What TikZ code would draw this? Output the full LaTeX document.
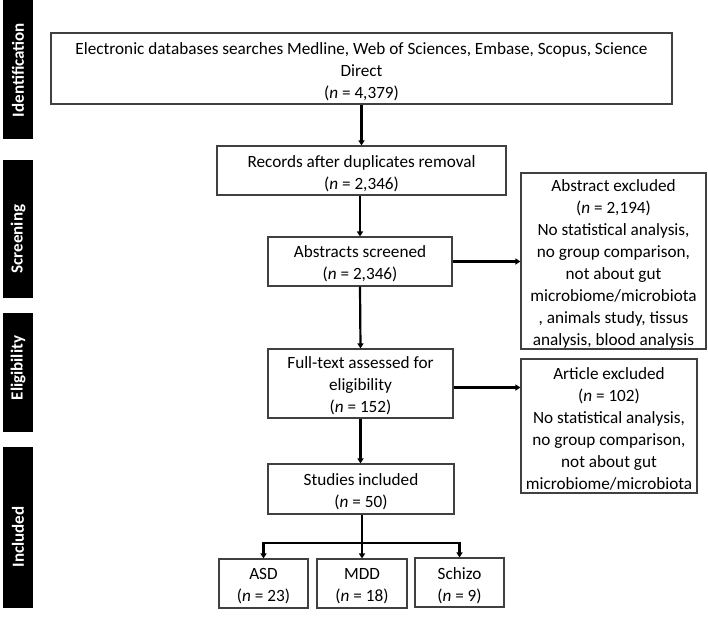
\documentclass[tikz,border=0pt]{standalone}
\usepackage{fontspec}
\setmainfont{Carlito}
\usetikzlibrary{arrows.meta,calc}
\begin{document}
\begin{tikzpicture}[x=1pt,y=-1pt,
  box/.style={draw=black!75,line width=1.1pt,rectangle,inner sep=0pt},
  txt/.style={align=center,inner sep=0pt,font=\fontsize{17.2}{21.9}\selectfont},
  bar/.style={fill=black,draw=none,rectangle,inner sep=0pt,minimum width=30pt},
  side/.style={text=white,inner sep=0pt,rotate=90,font=\fontsize{17}{20}\selectfont\bfseries},
  arr/.style={line width=2.2pt,-{Triangle[length=5pt,width=6pt]}},
  ln/.style={line width=2.2pt}
]
\useasboundingbox (0,0) rectangle (708,616);
% side bars
\node[bar,minimum height=139pt] (sid) at (18,69.5) {};
\node[bar,minimum height=138pt] (sscr) at (18,229) {};
\node[bar,minimum height=119pt] (seli) at (18,372.5) {};
\node[bar,minimum height=161pt] (sinc) at (18,527.5) {};
\node[side] (tid) at (18,70) {Identification};
\node[side] (tscr) at (18,239) {Screening};
\node[side] (teli) at (18,368) {Eligibility};
\node[side] (tinc) at (18,537) {Included};
% boxes
\node[box,minimum width=621pt,minimum height=71pt] (id) at (361.5,68.5) {};
\node[txt] (idt) at ([yshift=-3pt]id.center)
  {Electronic databases searches Medline, Web of Sciences, Embase, Scopus, Science\\Direct\\(\textit{n} = 4,379)};
\node[box,minimum width=289pt,minimum height=49pt] (rec) at (361.5,170.5) {};
\node[txt] (rect) at ([yshift=-3pt]rec.center)
  {Records after duplicates removal\\(\textit{n} = 2,346)};
\node[box,minimum width=184pt,minimum height=49pt] (abs) at (360,261.5) {};
\node[txt] (abst) at ([yshift=-2pt]abs.center)
  {Abstracts screened\\(\textit{n} = 2,346)};
\node[box,minimum width=185pt,minimum height=176pt] (absx) at (613.5,261) {};
\node[txt] (absxt) at ([yshift=-3pt]absx.center)
  {Abstract excluded\\(\textit{n} = 2,194)\\No statistical analysis,\\no group comparison,\\not about gut\\microbiome/microbiota\\, animals study, tissus\\analysis, blood analysis};
\node[box,minimum width=185pt,minimum height=69pt] (full) at (360.5,383.5) {};
\node[txt] (fullt) at ([yshift=-2.5pt]full.center)
  {Full-text assessed for\\eligibility\\(\textit{n} = 152)};
\node[box,minimum width=176pt,minimum height=134pt] (artx) at (609,426) {};
\node[txt] (artxt) at ([yshift=-3pt]artx.center)
  {Article excluded\\(\textit{n} = 102)\\No statistical analysis,\\no group comparison,\\not about gut\\microbiome/microbiota};
\node[box,minimum width=186pt,minimum height=50pt] (stud) at (361,489) {};
\node[txt] (studt) at ([yshift=-3pt]stud.center)
  {Studies included\\(\textit{n} = 50)};
\node[box,minimum width=89pt,minimum height=49pt] (asd) at (263.5,583.5) {};
\node[txt] (asdt) at ([yshift=-3pt]asd.center) {ASD\\(\textit{n} = 23)};
\node[box,minimum width=90pt,minimum height=49pt] (mdd) at (362,583.5) {};
\node[txt] (mddt) at ([yshift=-3pt]mdd.center) {MDD\\(\textit{n} = 18)};
\node[box,minimum width=89pt,minimum height=49pt] (sch) at (459.5,582.5) {};
\node[txt] (scht) at ([yshift=-3pt]sch.center) {Schizo\\(\textit{n} = 9)};
% connectors
\draw[arr] (id.south -| rec.north) -- (rec.north);
\draw[arr] (rec.south -| abs.north) -- (abs.north);
\draw[arr] (abs.south) -- (full.north);
\draw[arr] (full.south) -- (full.south |- stud.north);
\draw[arr] (abs.east) -- (abs.east -| absx.west);
\draw[arr] ($(full.east)+(0,4)$) -- ($(full.east -| artx.west)+(0,4)$);
\coordinate (br) at (362,543);
\draw[ln] (stud.south -| br) -- (br);
\draw[arr] (br) -- (mdd.north);
\draw[arr] (br) -| (asd.north);
\draw[arr] (br) -| (sch.north);
\end{tikzpicture}
\end{document}
